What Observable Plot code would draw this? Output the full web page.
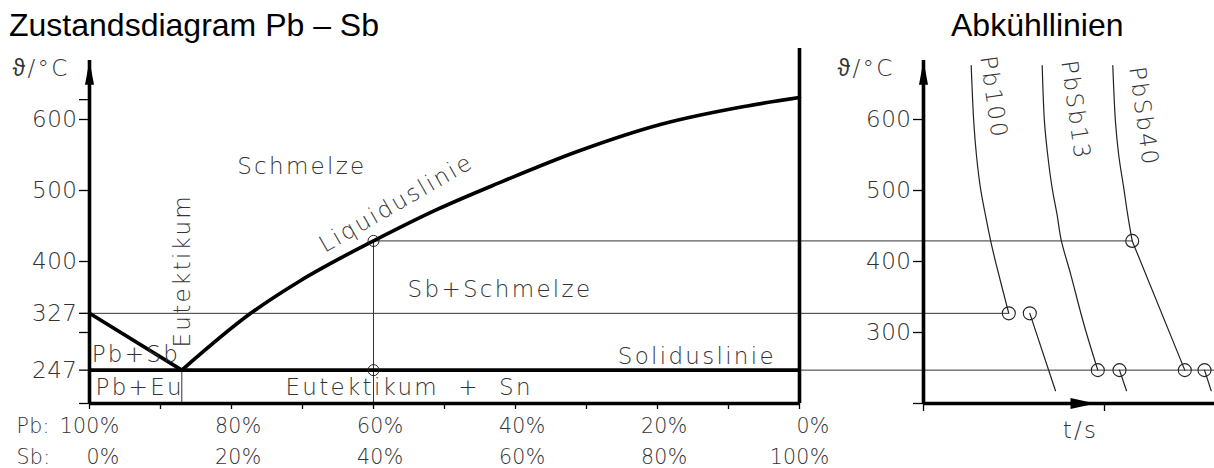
<!DOCTYPE html>
<html><head><meta charset="utf-8">
<script src="https://cdn.jsdelivr.net/npm/d3@7"></script>
<script src="https://cdn.jsdelivr.net/npm/@observablehq/plot@0.6"></script>
<style>
html,body{margin:0;padding:0;background:#fff;}
#wrap{position:relative;width:1214px;height:468px;overflow:hidden;background:#fff;}
.title{position:absolute;top:9px;font-family:"Liberation Sans",Arial,sans-serif;font-size:32px;line-height:32px;color:#000;white-space:nowrap;}
#left{position:absolute;left:0;top:45px;}
#right{position:absolute;left:830px;top:45px;}
#left svg,#right svg{overflow:hidden;}
#left text,#right text{letter-spacing:2.3px;}
#left g[aria-label="y-axis tick label"] text,#right g[aria-label="y-axis tick label"] text{letter-spacing:0.5px;}
#left g[font-size="20.5"] text{letter-spacing:0.3px;}
</style></head>
<body><div id="wrap">
<div class="title" style="left:9px">Zustandsdiagram Pb – Sb</div>
<div class="title" style="left:951px">Abkühllinien</div>
<div id="left"></div><div id="right"></div>
</div>
<script>
// ---------- Zustandsdiagramm Pb–Sb ----------
const sbTicksMajor = [0, 20, 40, 60, 80, 100];
const sbTicksMinor = [10, 30, 50, 70, 90];
const pbRowLabels = ["100%", "80%", "60%", "40%", "20%", "0%"];
const sbRowLabels = ["0%", "20%", "40%", "60%", "80%", "100%"];
const tempTicks = [200, 247, 300, 327, 400, 500, 600, 628];
const tempLabelled = [247, 327, 400, 500, 600];
const meltPb = 327;
const eutecticT = 247;
const eutecticSb = 13;
const liquidusSb = [13, 22.7, 29.7, 35.4, 40, 48.9, 57.5, 69, 80.4, 92, 100];
const liquidusT  = [247, 327, 373, 405, 429, 473, 510, 556, 593, 618, 631];
const alloySb = 40;
const alloyLiquidusT = 429;

// region annotations (Sb %, °C)
const notesFlat = [
  {text: "Schmelze", sb: 20.8, T: 534},
  {text: "Sb+Schmelze", sb: 44.8, T: 361},
  {text: "Soliduslinie", sb: 74.4, T: 266},
  {text: "Eutektikum  +  Sn", sb: 27.6, T: 222.5},
  {text: "Pb+Eu", sb: 0.85, T: 222.5},
  {text: "Pb+Sb", sb: 0.3, T: 269}
];
const notesRot = [
  {text: "Liquiduslinie", sb: 43.2, T: 482, rotate: -30},
  {text: "Eutektikum", sb: 13.1, T: 387, rotate: -90}
];

// ---------- Abkühllinien (t in arbitrary units, °C) ----------
const pb100_t1 = [47.7, 50.3, 53, 57, 62, 67, 72.5, 85.3];
const pb100_T1 = [676, 596, 549, 503, 465, 430, 397, 327];
const pb100_t2 = [106.3, 132];
const pb100_T2 = [327, 218];
const sb13_t1 = [118.7, 121, 124.3, 128.7, 133.7, 137.7, 147, 160.3, 174.3];
const sb13_T1 = [676, 596, 549, 503, 465, 430, 383, 312, 247];
const sb13_t2 = [196, 203];
const sb13_T2 = [247, 218];
const sb40_t1 = [189.3, 192, 195.3, 200.3, 204.3, 208.7];
const sb40_T1 = [676, 596, 549, 503, 465, 429];
const sb40_t2 = [208.7, 261.3];
const sb40_T2 = [429, 247];
const sb40_t3 = [281, 287.7];
const sb40_T3 = [247, 218];
const haltT = [85.3, 106.3, 174.3, 196, 208.7, 261.3, 281];
const haltTemp = [327, 327, 247, 247, 429, 247, 247];
const curveNames = ["Pb100", "PbSb13", "PbSb40"];
const curveLabelT = [70, 152, 220];
const curveLabelTemp = [631, 613, 604];
const rightTicks = [200, 300, 400, 500, 600];
const timeTicks = [0, 181];

// helpers
const pts = (xs, ys, seg) => xs.map((x, i) => ({x, y: ys[i], seg}));
const arrowUp = {draw(ctx) { ctx.moveTo(0, -12); ctx.lineTo(4.5, 12); ctx.lineTo(-4.5, 12); ctx.closePath(); }};
const arrowRight = {draw(ctx) { ctx.moveTo(12.5, 0); ctx.lineTo(-12.5, -5.5); ctx.lineTo(-12.5, 5.5); ctx.closePath(); }};
const font = "'DejaVu Sans', sans-serif";
const thick = {stroke: "black", strokeWidth: 3.6};
const thin = {stroke: "#333", strokeWidth: 1};
const comp = {frameAnchor: "bottom", lineAnchor: "middle", dx: 30, textAnchor: "end", fontSize: 20.5};
const compLeft = {frameAnchor: "bottom-left", lineAnchor: "middle", dx: -73, textAnchor: "start", fontSize: 20.5};

const liquidus = pts(liquidusSb, liquidusT, "l");
const pbSide = pts([0, eutecticSb], [meltPb, eutecticT], "p");

const left = Plot.plot({
  width: 830, height: 423,
  marginLeft: 89, marginRight: 31, marginTop: 74, marginBottom: 65,
  x: {domain: [0, 100]}, y: {domain: [200, 600]},
  style: {fontFamily: font, fontSize: "23px", fontWeight: 200, color: "#333", background: "white"},
  marks: [
    Plot.ruleY([meltPb], {x1: 0, x2: 130, ...thin}),
    Plot.ruleY([alloyLiquidusT], {x1: alloySb, x2: 130, ...thin}),
    Plot.ruleY([eutecticT], {x1: 100, x2: 130, ...thin}),
    Plot.ruleX([alloySb], {y1: 200, y2: alloyLiquidusT, ...thin}),
    Plot.ruleX([eutecticSb], {y1: 200, y2: eutecticT, ...thin}),
    Plot.axisY(tempTicks, {tickSize: 10, tickPadding: 2, strokeWidth: 1.3, stroke: "black",
      tickFormat: d => tempLabelled.includes(d) ? String(d) : "", label: null}),
    Plot.axisX([...sbTicksMajor, ...sbTicksMinor], {tickSize: 6, strokeWidth: 1.3, stroke: "black", tickFormat: () => "", label: null}),
    Plot.ruleX([0], {y1: 200, y2: 683, ...thick}),
    Plot.ruleX([100], {y1: 200, y2: 700, ...thick}),
    Plot.ruleY([200], {x1: 0, x2: 100, ...thick}),
    Plot.ruleY([eutecticT], {x1: 0, x2: 100, ...thick}),
    Plot.line(liquidus, {x: "x", y: "y", ...thick, curve: "monotone-x"}),
    Plot.line(pbSide, {x: "x", y: "y", ...thick}),
    Plot.dot([{x: 0, y: 666}], {x: "x", y: "y", symbol: arrowUp, fill: "black", stroke: "none"}),
    Plot.dot([{x: alloySb, y: alloyLiquidusT}, {x: alloySb, y: eutecticT}], {x: "x", y: "y", r: 5.5, stroke: "#222", strokeWidth: 1, fill: "none"}),
    Plot.text(notesFlat, {x: "sb", y: "T", text: "text", textAnchor: "start"}),
    Plot.text(notesRot, {x: "sb", y: "T", text: "text", rotate: "rotate", textAnchor: "middle"}),
    Plot.text(sbTicksMajor, {x: d => d, text: (d, i) => pbRowLabels[i], dy: 23, ...comp}),
    Plot.text(sbTicksMajor, {x: d => d, text: (d, i) => sbRowLabels[i], dy: 54, ...comp}),
    Plot.text(["Pb:"], {dy: 23, ...compLeft}),
    Plot.text(["Sb:"], {dy: 54, ...compLeft}),
    Plot.text(["ϑ/°C"], {frameAnchor: "top-left", lineAnchor: "middle", dx: -77, dy: -51, textAnchor: "start"})
  ]
});
document.getElementById("left").append(left);

const curves = [
  ...pts(pb100_t1, pb100_T1, "a1"), ...pts(pb100_t2, pb100_T2, "a2"),
  ...pts(sb13_t1, sb13_T1, "b1"), ...pts(sb13_t2, sb13_T2, "b2"),
  ...pts(sb40_t1, sb40_T1, "c1"), ...pts(sb40_t2, sb40_T2, "c2"), ...pts(sb40_t3, sb40_T3, "c3")
];
const halts = pts(haltT, haltTemp, "h");
const curveLabels = curveNames.map((n, i) => ({text: n, x: curveLabelT[i], y: curveLabelTemp[i]}));

const right = Plot.plot({
  width: 384, height: 423,
  marginLeft: 93, marginRight: 1, marginTop: 74, marginBottom: 65,
  x: {domain: [0, 290]}, y: {domain: [200, 600]},
  style: {fontFamily: font, fontSize: "23px", fontWeight: 200, color: "#333", background: "white"},
  marks: [
    Plot.ruleY([meltPb], {x1: -120, x2: haltT[0], ...thin}),
    Plot.ruleY([alloyLiquidusT], {x1: -120, x2: haltT[4], ...thin}),
    Plot.ruleY([eutecticT], {x1: -120, x2: 300, ...thin}),
    Plot.axisY(rightTicks, {tickSize: 10, tickPadding: 2, strokeWidth: 1.3, stroke: "black",
      tickFormat: d => d === 200 ? "" : String(d), label: null}),
    Plot.axisX(timeTicks, {tickSize: 8, strokeWidth: 1.3, stroke: "black", tickFormat: () => "", label: null}),
    Plot.line(curves, {x: "x", y: "y", z: "seg", stroke: "#222", strokeWidth: 1.2, curve: "catmull-rom"}),
    Plot.ruleX([0], {y1: 200, y2: 683, ...thick}),
    Plot.ruleY([200], {x1: 0, x2: 300, ...thick}),
    Plot.dot([{x: 0, y: 666}], {x: "x", y: "y", symbol: arrowUp, fill: "black", stroke: "none"}),
    Plot.dot([{x: 159.5, y: 200}], {x: "x", y: "y", symbol: arrowRight, fill: "black", stroke: "none"}),
    Plot.dot(halts, {x: "x", y: "y", r: 6.5, stroke: "#222", strokeWidth: 1.1, fill: "none"}),
    Plot.text(curveLabels, {x: "x", y: "y", text: "text", rotate: 82, textAnchor: "middle"}),
    Plot.text(["t/s"], {x: 157, frameAnchor: "bottom", lineAnchor: "middle", dy: 27, textAnchor: "middle"}),
    Plot.text(["ϑ/°C"], {frameAnchor: "top-left", lineAnchor: "middle", dx: -86, dy: -51, textAnchor: "start"})
  ]
});
document.getElementById("right").append(right);
</script>
</body></html>
